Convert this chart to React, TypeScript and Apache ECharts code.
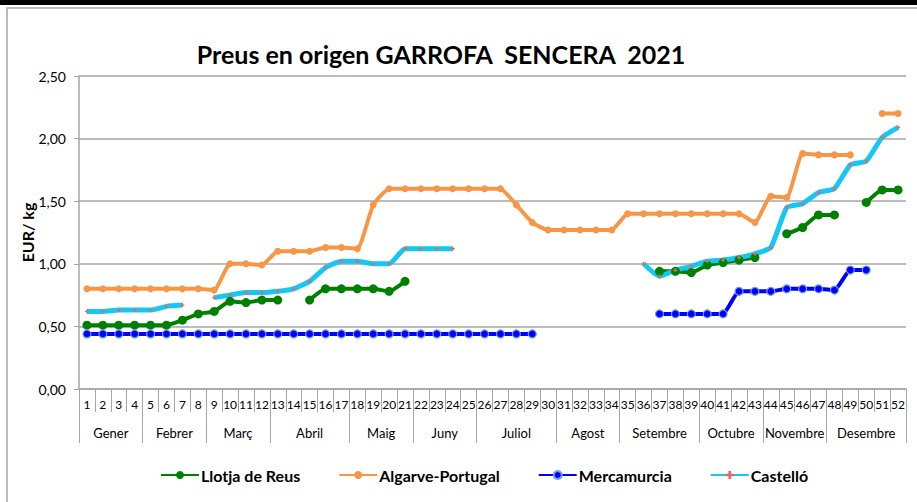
import React, { useEffect, useRef } from "react";
import * as echarts from "echarts";

const weeks = ["1","2","3","4","5","6","7","8","9","10","11","12","13","14","15","16","17","18","19","20","21","22","23","24","25","26","27","28","29","30","31","32","33","34","35","36","37","38","39","40","41","42","43","44","45","46","47","48","49","50","51","52"];

const monthNames = ["Gener","Febrer","Març","Abril","Maig","Juny","Juliol","Agost","Setembre","Octubre","Novembre","Desembre"];
const monthBounds = [0, 4, 8, 12, 17, 21, 25, 30, 34, 39, 43, 47, 52];
const monthCenters = [2, 6, 10, 14.5, 19, 23, 27.5, 32, 36.5, 41, 45, 49.5];

const yTicks = [0, 0.5, 1, 1.5, 2, 2.5];

const llotjaReus = [0.51,0.51,0.51,0.51,0.51,0.51,0.55,0.60,0.62,0.70,0.69,0.71,0.71,null,0.71,0.80,0.80,0.80,0.80,0.78,0.86,null,null,null,null,null,null,null,null,null,null,null,null,null,null,null,0.94,0.94,0.93,0.99,1.01,1.03,1.05,null,1.24,1.29,1.39,1.39,null,1.49,1.59,1.59];

const algarvePortugal = [0.80,0.80,0.80,0.80,0.80,0.80,0.80,0.80,0.79,1.00,1.00,0.99,1.10,1.10,1.10,1.13,1.13,1.12,1.47,1.60,1.60,1.60,1.60,1.60,1.60,1.60,1.60,1.47,1.33,1.27,1.27,1.27,1.27,1.27,1.40,1.40,1.40,1.40,1.40,1.40,1.40,1.40,1.33,1.54,1.53,1.88,1.87,1.87,1.87,null,2.20,2.20];

const mercamurcia = [0.44,0.44,0.44,0.44,0.44,0.44,0.44,0.44,0.44,0.44,0.44,0.44,0.44,0.44,0.44,0.44,0.44,0.44,0.44,0.44,0.44,0.44,0.44,0.44,0.44,0.44,0.44,0.44,0.44,null,null,null,null,null,null,null,0.60,0.60,0.60,0.60,0.60,0.78,0.78,0.78,0.80,0.80,0.80,0.79,0.95,0.95,null,null];

const castello = [0.62,0.62,0.63,0.63,0.63,0.66,0.67,null,0.73,0.75,0.77,0.77,0.78,0.80,0.86,0.97,1.02,1.02,1.00,1.00,1.12,1.12,1.12,1.12,null,null,null,null,null,null,null,null,null,null,null,1.00,0.90,0.95,0.98,1.02,1.03,1.05,1.08,1.13,1.45,1.48,1.57,1.60,1.79,1.82,2.01,2.09];

const FONT = "Lato, 'Liberation Sans', sans-serif";
const GRID_COLOR = "#a6a6a6";
const PLUS = "path://M2,0H4V2H6V4H4V6H2V4H0V2H2Z";

export default function App() {
  const ref = useRef<HTMLDivElement>(null);
  useEffect(() => {
    if (!ref.current) return;
    const chart = echarts.init(ref.current, null, { renderer: "svg" });
    const common = {
      type: "line",
      xAxisIndex: 0,
      yAxisIndex: 0,
      smooth: 0.15,
      showSymbol: true,
      showAllSymbol: true,
      connectNulls: false,
    };
    chart.setOption({
      animation: false,
      backgroundColor: "#ffffff",
      textStyle: { fontFamily: FONT },
      title: {
        text: "Preus en origen GARROFA  SENCERA  2021",
        left: 436,
        top: 36,
        textAlign: "center",
        textStyle: { fontFamily: FONT, fontSize: 25, fontWeight: "bold", color: "#000" },
      },
      graphic: [
        { type: "rect", silent: true, z: -10, shape: { x: 0, y: 0, width: 917, height: 5 }, style: { fill: "#000" } },
        { type: "rect", silent: true, z: -10, shape: { x: 7, y: 8, width: 930, height: 520 }, style: { fill: "transparent", stroke: GRID_COLOR, lineWidth: 1.5 } },
      ],
      grid: { left: 79, right: 11, top: 76, bottom: 113, containLabel: false },
      legend: {
        left: 155,
        top: 462,
        itemWidth: 38,
        itemHeight: 10,
        itemGap: 38,
        textStyle: { fontFamily: FONT, fontSize: 16, fontWeight: "bold", color: "#000", padding: [0, 0, 0, -3] },
        data: ["Llotja de Reus", "Algarve-Portugal", "Mercamurcia", "Castelló"],
      },
      xAxis: [
        {
          type: "category",
          data: weeks,
          position: "bottom",
          boundaryGap: true,
          axisLine: { show: true, lineStyle: { color: GRID_COLOR, width: 1.5 } },
          axisTick: { show: true, interval: 0, length: 23, lineStyle: { color: GRID_COLOR } },
          axisLabel: { interval: 0, margin: 9, fontSize: 12, color: "#000", fontFamily: FONT },
          splitLine: { show: false },
        },
        {
          type: "value",
          min: 0,
          max: 52,
          position: "bottom",
          axisLine: { show: false },
          splitLine: { show: false },
          axisTick: { show: true, customValues: monthBounds, length: 54, lineStyle: { color: GRID_COLOR } },
          axisLabel: {
            customValues: monthCenters,
            margin: 37,
            fontSize: 13,
            color: "#000",
            fontFamily: FONT,
            formatter: (v: number) => monthNames[monthCenters.indexOf(v)] ?? "",
          },
        },
      ],
      yAxis: {
        type: "value",
        min: yTicks[0],
        max: yTicks[yTicks.length - 1],
        interval: 0.5,
        name: "EUR/ kg",
        nameLocation: "middle",
        nameGap: 44,
        nameMoveOverlap: false,
        nameRotate: 90,
        nameTextStyle: { fontFamily: FONT, fontSize: 16, fontWeight: "bold", color: "#000" },
        axisLine: { show: true, lineStyle: { color: GRID_COLOR, width: 1.5 } },
        axisTick: { show: true, length: 5, lineStyle: { color: GRID_COLOR } },
        axisLabel: {
          margin: 13,
          fontSize: 14,
          color: "#000",
          fontFamily: FONT,
          formatter: (v: number) => v.toFixed(2).replace(".", ","),
        },
        splitLine: { show: true, lineStyle: { color: GRID_COLOR, width: 1.5 } },
      },
      series: [
        {
          ...common,
          name: "Llotja de Reus",
          data: llotjaReus,
          symbol: "circle",
          symbolSize: 9,
          lineStyle: { color: "#008000", width: 4 },
          itemStyle: { color: "#008000" },
        },
        {
          ...common,
          name: "Algarve-Portugal",
          data: algarvePortugal,
          symbol: "circle",
          symbolSize: 7,
          lineStyle: { color: "#f79646", width: 4 },
          itemStyle: { color: "#f79646" },
        },
        {
          ...common,
          name: "Mercamurcia",
          data: mercamurcia,
          symbol: "circle",
          symbolSize: 8,
          lineStyle: { color: "#0000ff", width: 4 },
          itemStyle: { color: "#0000ff", borderColor: "#6f9fe0", borderWidth: 1.2 },
        },
        {
          ...common,
          name: "Castelló",
          data: castello,
          symbol: PLUS,
          symbolSize: 4,
          lineStyle: { color: "#14c8f6", width: 5 },
          itemStyle: { color: "#e8665e" },
        },
      ],
    });
    return () => chart.dispose();
  }, []);
  return (
    <div
      ref={ref}
      style={{ position: "fixed", left: 0, top: 0, width: 917, height: 502, background: "#fff" }}
    />
  );
}
